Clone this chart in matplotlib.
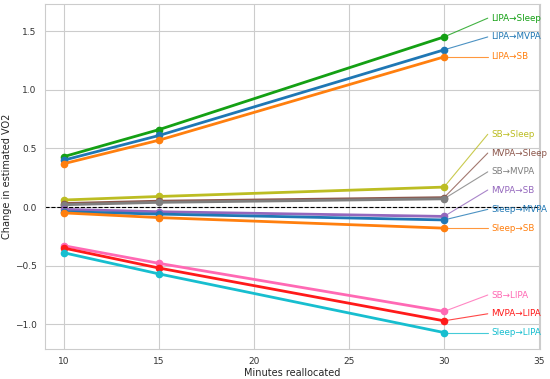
import numpy as np
import matplotlib
matplotlib.use("Agg")
import matplotlib.pyplot as plt
import seaborn as sns

minutes = [10, 15, 30]

labels = ["LIPA→Sleep", "LIPA→MVPA", "LIPA→SB",
          "SB→Sleep", "MVPA→Sleep", "SB→MVPA", "MVPA→SB",
          "Sleep→MVPA", "Sleep→SB",
          "SB→LIPA", "MVPA→LIPA", "Sleep→LIPA"]

values = [
    [0.43, 0.66, 1.45],
    [0.40, 0.61, 1.34],
    [0.37, 0.57, 1.28],
    [0.06, 0.09, 0.17],
    [0.03, 0.05, 0.08],
    [0.02, 0.04, 0.07],
    [-0.02, -0.04, -0.08],
    [-0.04, -0.06, -0.11],
    [-0.05, -0.09, -0.18],
    [-0.33, -0.48, -0.89],
    [-0.35, -0.52, -0.97],
    [-0.39, -0.57, -1.07],
]

# where the labels sit on the right
label_y = [1.61, 1.45, 1.28, 0.62, 0.46, 0.30, 0.145, -0.02, -0.18, -0.75, -0.91, -1.07]

colors = ["#14a014", "#1f77b4", "#ff7f0e",
          "#bcbd22", "#8c564b", "#7f7f7f", "#9467bd",
          "#1f77b4", "#ff7f0e",
          "#ff69b4", "#ff1a1a", "#17becf"]

sns.set_style("whitegrid")
fig = plt.figure(figsize=(5.5, 3.79), dpi=100)
ax = fig.add_axes([0.0818, 0.0792, 0.9, 0.910])

for vals, lab, ly, c in zip(values, labels, label_y, colors):
    ax.plot(minutes, vals, color=c, lw=2, marker="o", ms=4.5)
    ax.plot([minutes[-1], 32.3], [vals[-1], ly], color=c, lw=0.8, alpha=0.8)
    ax.text(32.5, ly, lab, color=c, fontsize=6.3, va="center", ha="left")

ax.axhline(0, color="black", lw=0.8, ls="--")
ax.set_xlim(9.0, 35.05)
ax.set_ylim(-1.21, 1.73)
ax.set_xticks([10, 15, 20, 25, 30, 35])
ax.set_yticks([-1.0, -0.5, 0.0, 0.5, 1.0, 1.5])
ax.tick_params(labelsize=6.5, colors="#333333", pad=2.5)
ax.set_xlabel("Minutes reallocated", fontsize=7, labelpad=1)
ax.set_ylabel("Change in estimated VO2", fontsize=7, labelpad=2)

fig.savefig("out.png", dpi=100)
